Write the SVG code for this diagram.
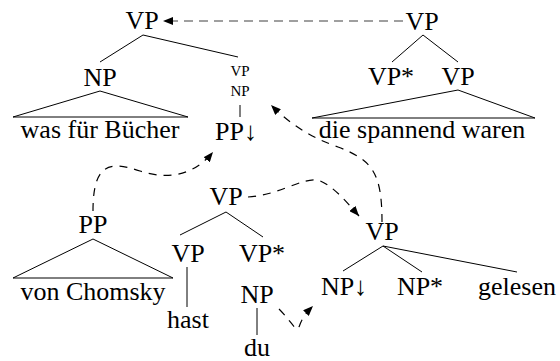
<svg xmlns="http://www.w3.org/2000/svg" width="560" height="361" viewBox="0 0 560 361">
<style>
text{font-family:'Liberation Serif','Times New Roman',serif;font-size:26px;fill:#000;text-anchor:middle}
.sm{font-size:15px}
.edge{stroke:#000;stroke-width:1;fill:none}
.tri{stroke:#000;stroke-width:1;fill:none;stroke-linejoin:miter}
.dash{stroke:#000;stroke-width:1.2;fill:none;stroke-dasharray:8,7}
.gray{stroke:#808080;stroke-width:1.5;fill:none;stroke-dasharray:9,6}
</style>
<defs>
<marker id="ah" markerUnits="userSpaceOnUse" viewBox="0 0 10 8" markerWidth="10" markerHeight="8" refX="10" refY="4" orient="auto"><path d="M0,0L10,4L0,8z" fill="#000"/></marker>
</defs>
<rect width="560" height="361" fill="#fff"/>

<g id="tree1-vp"><text x="142" y="29">VP</text></g>
<g id="tree1-np"><text x="100" y="86">NP</text></g>
<g id="tree1-yield"><path class="tri" d="M100,91L13,117L188,117Z"/><text x="100" y="138">was für Bücher</text></g>
<g id="tree1-vpnp"><text class="sm" x="240" y="76">VP</text><text class="sm" x="240" y="96">NP</text></g>
<g id="tree1-pp"><text x="236" y="140">PP↓</text></g>

<g id="tree2-vp"><text x="422" y="30">VP</text></g>
<g id="tree2-vpstar"><text x="391" y="85">VP*</text></g>
<g id="tree2-vp2"><text x="458" y="85">VP</text></g>
<g id="tree2-yield"><path class="tri" d="M458,90L312,118L535,118Z"/><text x="422" y="138">die spannend waren</text></g>

<g id="tree3-pp"><text x="93" y="233">PP</text></g>
<g id="tree3-yield"><path class="tri" d="M93,239L13,278L173,278Z"/><text x="93" y="300">von Chomsky</text></g>

<g id="tree4-vp"><text x="226" y="205">VP</text></g>
<g id="tree4-vpl"><text x="188" y="262">VP</text></g>
<g id="tree4-vpstar"><text x="262" y="262">VP*</text></g>
<g id="tree4-hast"><text x="188" y="328">hast</text></g>

<g id="tree5-np"><text x="257" y="303">NP</text></g>
<g id="tree5-du"><text x="257" y="356">du</text></g>

<g id="tree6-vp"><text x="382" y="240">VP</text></g>
<g id="tree6-np"><text x="344" y="295">NP↓</text></g>
<g id="tree6-npstar"><text x="420" y="295">NP*</text></g>
<g id="tree6-gelesen"><text x="517" y="295">gelesen</text></g>

<g id="tree-edges">
<path class="edge" d="M143,35L100,62M143,35L238,57"/>
<path class="edge" d="M240,105L240,117"/>
<path class="edge" d="M423,35L392,62M423,35L458,62"/>
<path class="edge" d="M226,212L180,235M226,212L263,237"/>
<path class="edge" d="M187,267L187,307"/>
<path class="edge" d="M257,308L257,335"/>
<path class="edge" d="M383,246L343,271M383,246L422,272M383,246L517,272"/>
</g>

<g id="connectors">
<path class="gray" d="M403,21L170,21"/>
<path d="M172,21L163,21" stroke="none" fill="none" marker-end="url(#ah)"/>
<path class="dash" d="M93,211C93,165 108,160 140,171C170,181 195,174 213,152" marker-end="url(#ah)"/>
<path class="dash" d="M248,197C280,195 300,178 318,180C332,185 345,200 359,216" marker-end="url(#ah)"/>
<path class="dash" d="M382,222C382,172 372,160 338,147C310,137 290,124 271,105" marker-end="url(#ah)"/>
<path class="dash" d="M279,309C292,322 297,334 299,327C302,318 306,313 313,306" marker-end="url(#ah)"/>
</g>
</svg>
